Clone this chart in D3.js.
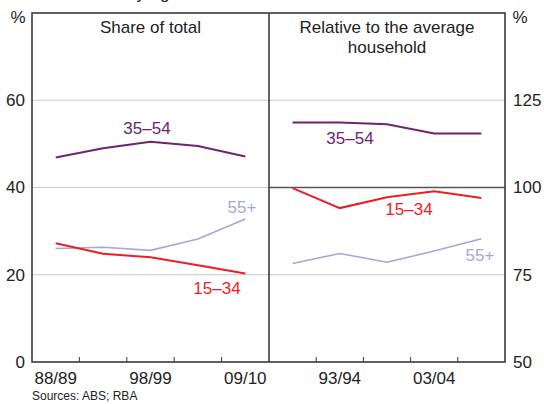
<!DOCTYPE html>
<html>
<head>
<meta charset="utf-8">
<script src="https://cdn.jsdelivr.net/npm/d3@7/dist/d3.min.js"></script>
<style>
  html, body { margin: 0; padding: 0; background: #fff; }
  svg { display: block; font-family: "Liberation Sans", Arial, sans-serif; }
</style>
</head>
<body>
<svg id="chart" width="544" height="404"></svg>
<script>
// ---- data ----
const years = ["88/89", "93/94", "98/99", "03/04", "09/10"];
const leftLabels = ["88/89", "98/99", "09/10"];
const rightLabels = ["93/94", "03/04"];
const leftTicks = [0, 20, 40, 60];
const rightTicks = [50, 75, 100, 125];
const seriesNames = ["15–34", "35–54", "55+"];
const shareYoung = [27.2, 24.8, 24.0, 22.2, 20.3];
const shareMid = [46.9, 49.0, 50.5, 49.5, 47.1];
const shareOld = [26.0, 26.3, 25.6, 28.2, 32.8];
const relYoung = [99.8, 94.1, 97.2, 98.9, 97.0];
const relMid = [118.6, 118.6, 118.1, 115.5, 115.5];
const relOld = [78.2, 81.1, 78.6, 81.8, 85.3];

const colors = { "15–34": "#f01c24", "35–54": "#6e2470", "55+": "#a8a6d8" };
const widths = { "15–34": 2, "35–54": 2, "55+": 1.6 };

const svg = d3.select("#chart");
const L = 32, M = 269, R = 505, T = 13, B = 362;
const fs = 17;

const xL = d3.scaleBand().domain(years).range([L, M]);
const xR = d3.scaleBand().domain(years).range([M, R]);
const yL = d3.scaleLinear().domain([0, 80]).range([B, T]);
const yR = d3.scaleLinear().domain([50, 150]).range([B, T]);

// title (clipped at top in the reference; only descenders visible)
const prefix = "Household Income ";
const tmp = svg.append("text").attr("font-size", 17).attr("xml:space", "preserve").text(prefix);
const pw = tmp.node().getComputedTextLength();
tmp.remove();
svg.append("text").attr("x", 127 - pw).attr("y", -1)
  .attr("font-size", 17).attr("fill", "#222")
  .text("Household Income by Age of Household Head");

// gridlines
svg.append("g").selectAll("line").data(leftTicks.filter(d => d > 0)).join("line")
  .attr("x1", L).attr("x2", M).attr("y1", d => yL(d)).attr("y2", d => yL(d))
  .attr("stroke", "#c8c8c8").attr("stroke-width", 1);
svg.append("g").selectAll("line").data(rightTicks.filter(d => d > 50)).join("line")
  .attr("x1", M).attr("x2", R).attr("y1", d => yR(d)).attr("y2", d => yR(d))
  .attr("stroke", d => d === 100 ? "#555" : "#c8c8c8")
  .attr("stroke-width", d => d === 100 ? 1.5 : 1);

// lines
const line = (x, y) => d3.line().x((d, i) => x(years[i]) + x.bandwidth() / 2).y(d => y(d));
const leftSeries = [["55+", shareOld], ["15–34", shareYoung], ["35–54", shareMid]];
const rightSeries = [["55+", relOld], ["15–34", relYoung], ["35–54", relMid]];
leftSeries.forEach(([n, v]) => svg.append("path").datum(v).attr("d", line(xL, yL))
  .attr("fill", "none").attr("stroke", colors[n]).attr("stroke-width", widths[n]));
rightSeries.forEach(([n, v]) => svg.append("path").datum(v).attr("d", line(xR, yR))
  .attr("fill", "none").attr("stroke", colors[n]).attr("stroke-width", widths[n]));

// frame
const frame = svg.append("g").attr("stroke", "#3a3a3a").attr("stroke-width", 1.6).attr("fill", "none");
frame.append("rect").attr("x", L).attr("y", T).attr("width", R - L).attr("height", B - T);
frame.append("line").attr("x1", M).attr("x2", M).attr("y1", T).attr("y2", B);

// x ticks (band boundaries, pointing up)
const tickG = svg.append("g").attr("stroke", "#3a3a3a").attr("stroke-width", 1);
tickG.selectAll(".tl").data(years.slice(1)).join("line")
  .attr("x1", d => xL(d)).attr("x2", d => xL(d)).attr("y1", B).attr("y2", B - 5);
tickG.selectAll(".tr").data(years.slice(1)).join("line")
  .attr("x1", d => xR(d)).attr("x2", d => xR(d)).attr("y1", B).attr("y2", B - 5);

// x labels
svg.append("g").selectAll("text").data(leftLabels).join("text")
  .attr("x", d => xL(d) + xL.bandwidth() / 2).attr("y", 384)
  .attr("text-anchor", "middle").attr("font-size", fs).attr("fill", "#222").text(d => d);
svg.append("g").selectAll("text").data(rightLabels).join("text")
  .attr("x", d => xR(d) + xR.bandwidth() / 2).attr("y", 384)
  .attr("text-anchor", "middle").attr("font-size", fs).attr("fill", "#222").text(d => d);

// y labels
svg.append("g").selectAll("text").data(leftTicks).join("text")
  .attr("x", 25).attr("y", d => yL(d)).attr("dy", "0.35em")
  .attr("text-anchor", "end").attr("font-size", fs).attr("fill", "#222").text(d => d);
svg.append("g").selectAll("text").data(rightTicks).join("text")
  .attr("x", 513).attr("y", d => yR(d)).attr("dy", "0.35em")
  .attr("text-anchor", "start").attr("font-size", fs).attr("fill", "#222").text(d => d);

// units
svg.append("text").attr("x", 18).attr("y", 23).attr("text-anchor", "middle")
  .attr("font-size", fs).attr("fill", "#222").text("%");
svg.append("text").attr("x", 520).attr("y", 23).attr("text-anchor", "middle")
  .attr("font-size", fs).attr("fill", "#222").text("%");

// panel titles
svg.append("text").attr("x", (L + M) / 2).attr("y", 33).attr("text-anchor", "middle")
  .attr("font-size", fs).attr("fill", "#222").text("Share of total");
svg.append("text").attr("x", (M + R) / 2).attr("y", 33).attr("text-anchor", "middle")
  .attr("font-size", fs).attr("fill", "#222").text("Relative to the average");
svg.append("text").attr("x", (M + R) / 2).attr("y", 53).attr("text-anchor", "middle")
  .attr("font-size", fs).attr("fill", "#222").text("household");

// series labels
const lab = [
  ["35–54", 147, 134], ["55+", 242, 213], ["15–34", 217, 294],
  ["35–54", 350, 144], ["15–34", 409, 215], ["55+", 480, 261]
];
svg.append("g").selectAll("text").data(lab).join("text")
  .attr("x", d => d[1]).attr("y", d => d[2]).attr("text-anchor", "middle")
  .attr("font-size", fs).attr("fill", d => colors[d[0]]).text(d => d[0]);

// source
svg.append("text").attr("x", 32).attr("y", 400).attr("font-size", 12)
  .attr("fill", "#222").text("Sources: ABS; RBA");
</script>
</body>
</html>
